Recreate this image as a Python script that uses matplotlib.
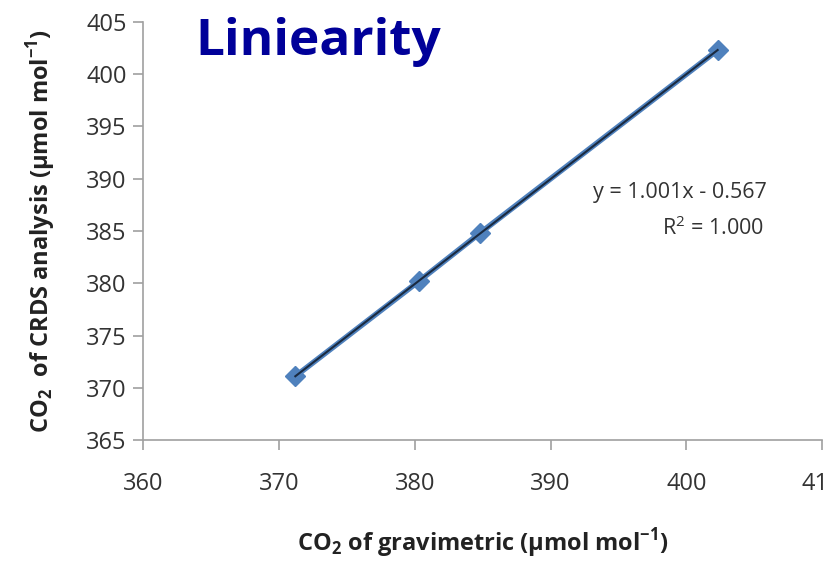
import numpy as np
import matplotlib
matplotlib.use('Agg')
import matplotlib.pyplot as plt

# values
gravimetric = [371.2, 380.3, 384.8, 402.3]
crds = [371.1, 380.2, 384.8, 402.3]
x_ticks = [360, 370, 380, 390, 400, 410]
y_ticks = [365, 370, 375, 380, 385, 390, 395, 400, 405]

plt.rcParams['font.family'] = ['Open Sans', 'DejaVu Sans']
plt.rcParams['mathtext.fontset'] = 'custom'
plt.rcParams['mathtext.rm'] = 'Open Sans'
plt.rcParams['mathtext.bf'] = 'Open Sans:bold'

fig = plt.figure(figsize=(8.28, 5.62), dpi=100)
ax = fig.add_axes([0.173, 0.217, 0.820, 0.744])

ax.plot(gravimetric, crds, color='#4F81BD', lw=4, marker='D', ms=10,
        markeredgecolor='#4F81BD', zorder=2)

# linear trendline like excel
k, b = np.polyfit(gravimetric, crds, 1)
xs = np.array([gravimetric[0], gravimetric[-1]])
ax.plot(xs, k * xs + b, color='#1a2a40', lw=1.5, zorder=3)

ax.set_xlim(360, 410)
ax.set_ylim(365, 405)
ax.set_xticks(x_ticks)
ax.set_yticks(y_ticks)
ax.tick_params(labelsize=17, colors='#333333', length=7, width=1.2,
               color='#a0a0a0', pad=5)
ax.tick_params(axis='x', pad=16)
for s in ['top', 'right']:
    ax.spines[s].set_visible(False)
for s in ['left', 'bottom']:
    ax.spines[s].set_color('#a0a0a0')
    ax.spines[s].set_linewidth(1.2)

ax.text(405.9, 388.7, 'y = 1.001x - 0.567', ha='right', va='center',
        fontsize=15.5, color='#333333')
ax.text(405.7, 385.3, 'R$^2$ = 1.000', ha='right', va='center',
        fontsize=15.5, color='#333333')

fig.text(0.236, 0.925, 'Liniearity', fontsize=37, fontweight='bold',
         color='#000099', ha='left', va='center')

ax.set_xlabel(r'CO$_\mathbf{2}$ of gravimetric ($\mathbf{\mu}$mol mol$^{\mathbf{-1}}$)',
              fontsize=17, fontweight='bold', color='#222222', labelpad=22)
ax.set_ylabel(r'CO$_\mathbf{2}$  of CRDS analysis ($\mathbf{\mu}$mol mol$^{\mathbf{-1}}$)',
              fontsize=17, fontweight='bold', color='#222222', labelpad=20)

plt.savefig('out.png', dpi=100)
